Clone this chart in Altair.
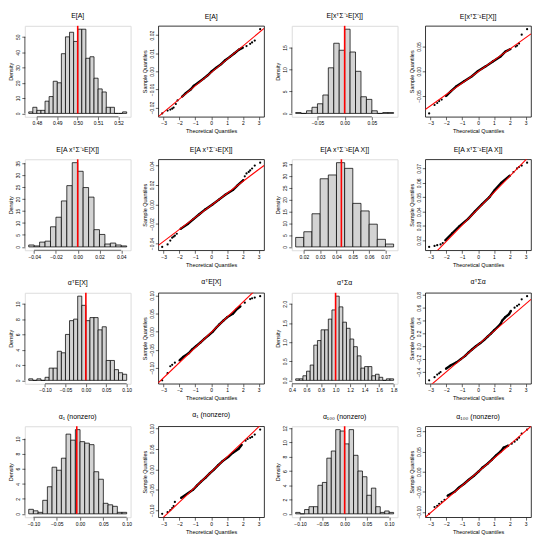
import altair as alt
import pandas as pd

FONT = "Liberation Sans"
W, H = 107, 92

titles = ["E[A]", "E[xᵀΣ⁻¹E[X]]", "E[A xᵀΣ⁻¹E[X]]", "E[A xᵀΣ⁻¹E[A X]]",
          "αᵀE[X]", "αᵀΣα", "α₁ (nonzero)", "α₁₀₀ (nonzero)"]

# ---------------- histogram panels (bin start, bin width, densities) ----------------
h1_start, h1_width = 0.476, 0.002
h1_dens = [1, 4, 2, 2, 8, 11, 21, 20, 39, 50, 53, 47, 55, 55, 36, 37, 23, 16, 14, 4, 4, 0, 0, 1]
h1_mark = 0.50
h1_xticks = [0.48, 0.49, 0.50, 0.51, 0.52]
h1_yticks = [0, 10, 20, 30, 40, 50]

h2_start, h2_width = -0.09, 0.01
h2_dens = [0.2, 0, 0.6, 1.4, 2.2, 4.2, 10.4, 16.0, 14.4, 19.2, 14.0, 9.6, 3.8, 3.2, 0.6, 0, 0.2, 0.2]
h2_mark = 0.0
h2_xticks = [-0.05, 0.0, 0.05]
h2_yticks = [0, 5, 10, 15]

h3_start, h3_width = -0.045, 0.005
h3_dens = [0.8, 0.4, 2.0, 2.4, 8.4, 12.4, 19.2, 25.6, 35.2, 31.6, 24.8, 20.8, 7.2, 5.2, 1.2, 1.6, 0.8, 0.4]
h3_mark = 0.0
h3_xticks = [-0.04, -0.02, 0.0, 0.02, 0.04]
h3_yticks = [0, 5, 10, 15, 20, 25, 30, 35]

h4_start, h4_width = 0.015, 0.005
h4_dens = [4.0, 6.4, 14.0, 28.8, 30.4, 35.6, 33.2, 18.4, 15.2, 9.6, 3.2, 1.2]
h4_mark = 0.043
h4_xticks = [0.02, 0.03, 0.04, 0.05, 0.06, 0.07]
h4_yticks = [0, 5, 10, 15, 20, 25, 30, 35]

h5_start, h5_width = -0.14, 0.01
h5_dens = [0.2, 0, 0.2, 0, 0.4, 1.6, 1.6, 3.8, 3.6, 6.0, 7.8, 8.0, 11.0, 9.8, 7.8, 8.2, 8.2, 6.6, 7.0,
           2.6, 2.6, 1.4, 1.0, 0.8]
h5_mark = 0.0
h5_xticks = [-0.10, -0.05, 0.0, 0.05, 0.10]
h5_yticks = [0, 2, 4, 6, 8, 10]

h6_start, h6_width = 0.45, 0.05
h6_dens = [0.04, 0.04, 0.12, 0.24, 0.40, 0.92, 1.04, 1.32, 1.32, 1.60, 1.84, 2.20, 1.92, 1.52, 1.36,
           1.08, 0.88, 0.64, 0.32, 0.36, 0.36, 0.12, 0.16, 0.08, 0, 0.04, 0.04]
h6_mark = 1.0
h6_xticks = [0.4, 0.6, 0.8, 1.0, 1.2, 1.4, 1.6, 1.8]
h6_yticks = [0.0, 0.5, 1.0, 1.5, 2.0]

h7_start, h7_width = -0.11, 0.01
h7_dens = [0.6, 0.4, 0.2, 1.8, 3.6, 6.2, 5.8, 7.4, 10.6, 9.8, 11.2, 9.6, 9.4, 9.2, 5.6, 4.6, 1.4, 1.2,
           1.0, 0.2, 0.2]
h7_mark = -0.007
h7_xticks = [-0.10, -0.05, 0.0, 0.05, 0.10]
h7_yticks = [0, 2, 4, 6, 8, 10]

h8_start, h8_width = -0.11, 0.01
h8_dens = [0.2, 0, 0.6, 1.0, 1.0, 4.0, 4.4, 7.8, 8.8, 11.8, 11.6, 9.8, 11.8, 8.2, 6.0, 5.2, 2.6, 3.6,
           1.0, 0.2, 0.4, 0.2]
h8_mark = 0.0
h8_xticks = [-0.10, -0.05, 0.0, 0.05, 0.10]
h8_yticks = [0, 2, 4, 6, 8, 10, 12]

# ---------------- QQ panels (theoretical quantile, sample quantile) ----------------
q1 = [-3.09, -2.75, -2.58, -2.46, -2.37, -2.23, -2.12, -1.84, -1.60, -1.30, -1.10, -0.78, -0.48, -0.20,
      0.03, 0.32, 0.63, 0.87, 1.18, 1.47, 1.75, 2.00, 2.23, 2.46, 2.58, 2.75, 3.09]
v1 = [-0.0232, -0.0216, -0.0211, -0.0206, -0.0200, -0.0180, -0.0160, -0.0140, -0.0120, -0.0100, -0.0080,
      -0.0060, -0.0040, -0.0020, 0.0000, 0.0020, 0.0040, 0.0060, 0.0080, 0.0100, 0.0120, 0.0131, 0.0140,
      0.0152, 0.0160, 0.0170, 0.0233]
qq1_line = (-0.0006, 0.0073)
qq1_yticks = [-0.02, -0.01, 0.0, 0.01, 0.02]

q2 = [-3.09, -2.75, -2.58, -2.46, -2.30, -2.03, -1.71, -1.36, -0.88, -0.39, -0.02, 0.48, 0.93, 1.41, 1.73,
      2.05, 2.37, 2.46, 2.58, 2.75, 3.09]
v2 = [-0.085, -0.068, -0.064, -0.060, -0.057, -0.050, -0.040, -0.030, -0.020, -0.010, 0.000, 0.010, 0.020,
      0.030, 0.040, 0.045, 0.050, 0.052, 0.056, 0.074, 0.085]
qq2_line = (-0.0008, 0.0229)
qq2_yticks = [-0.05, 0.0, 0.05]

q3 = [-3.09, -2.75, -2.58, -2.46, -2.37, -2.29, -2.17, -1.93, -1.48, -1.12, -0.75, -0.37, 0.08, 0.49, 0.89,
      1.38, 1.68, 2.03, 2.12, 2.23, 2.37, 2.46, 2.58, 2.75, 3.09]
v3 = [-0.0435, -0.0410, -0.0370, -0.0340, -0.0330, -0.0320, -0.0300, -0.0250, -0.0200, -0.0150, -0.0100,
      -0.0050, 0.0000, 0.0050, 0.0100, 0.0150, 0.0200, 0.0250, 0.0290, 0.0320, 0.0335, 0.0350, 0.0370,
      0.0400, 0.0430]
qq3_line = (-0.0009, 0.0123)
qq3_yticks = [-0.04, -0.02, 0.0, 0.02, 0.04]

q4 = [-3.09, -2.75, -2.58, -2.37, -2.23, -2.07, -1.63, -1.17, -0.63, -0.21, 0.24, 0.71, 1.05, 1.46, 2.00,
      2.23, 2.46, 2.58, 2.75, 3.09]
v4 = [0.0155, 0.0162, 0.0167, 0.0172, 0.0182, 0.0200, 0.0250, 0.0300, 0.0350, 0.0400, 0.0450, 0.0500,
      0.0550, 0.0600, 0.0650, 0.0675, 0.0700, 0.0710, 0.0720, 0.0740]
qq4_line = (0.0420, 0.0113)
qq4_yticks = [0.02, 0.03, 0.04, 0.05, 0.06, 0.07]

q5 = [-3.09, -2.75, -2.58, -2.46, -2.29, -2.00, -1.76, -1.42, -1.21, -0.94, -0.67, -0.43, -0.15, 0.10, 0.30,
      0.52, 0.77, 1.02, 1.38, 1.57, 1.85, 2.12, 2.46, 2.58, 2.75, 3.09]
v5 = [-0.135, -0.115, -0.096, -0.092, -0.086, -0.080, -0.070, -0.060, -0.050, -0.040, -0.030, -0.020,
      -0.010, 0.000, 0.010, 0.020, 0.030, 0.040, 0.050, 0.060, 0.070, 0.080, 0.090, 0.092, 0.094, 0.098]
qq5_line = (-0.0021, 0.0418)
qq5_yticks = [-0.10, -0.05, 0.0, 0.05, 0.10]

q6 = [-3.09, -2.75, -2.58, -2.46, -2.37, -2.03, -1.74, -1.36, -1.09, -0.82, -0.61, -0.385, -0.14, 0.14,
      0.385, 0.60, 0.82, 1.02, 1.23, 1.42, 1.52, 1.70, 1.95, 2.07, 2.30, 2.46, 2.58, 2.75, 3.09]
v6 = [-0.53, -0.48, -0.44, -0.42, -0.40, -0.35, -0.30, -0.25, -0.20, -0.15, -0.10, -0.05, 0.00, 0.05,
      0.10, 0.15, 0.20, 0.25, 0.30, 0.35, 0.40, 0.45, 0.50, 0.55, 0.60, 0.63, 0.65, 0.73, 0.78]
qq6_line = (0.0255, 0.2108)
qq6_yticks = [-0.4, -0.2, 0.0, 0.2, 0.4, 0.6, 0.8]

q7 = [-3.09, -2.75, -2.58, -2.46, -2.37, -2.29, -1.90, -1.51, -1.14, -0.90, -0.64, -0.34, -0.09, 0.19, 0.45,
      0.72, 1.07, 1.35, 1.73, 1.93, 2.17, 2.30, 2.46, 2.58, 2.75, 3.09]
v7 = [-0.109, -0.105, -0.100, -0.095, -0.090, -0.080, -0.070, -0.060, -0.050, -0.040, -0.030, -0.020,
      -0.010, 0.000, 0.010, 0.020, 0.030, 0.040, 0.050, 0.060, 0.070, 0.074, 0.077, 0.079, 0.085, 0.097]
qq7_line = (-0.0066, 0.0368)
qq7_yticks = [-0.10, -0.05, 0.0, 0.05, 0.10]

q8 = [-3.09, -2.75, -2.58, -2.46, -2.30, -2.12, -1.93, -1.49, -1.22, -0.88, -0.59, -0.265, 0.02, 0.275,
      0.60, 0.87, 1.12, 1.41, 1.61, 1.90, 2.12, 2.30, 2.46, 2.58, 2.75, 3.09]
v8 = [-0.105, -0.088, -0.085, -0.080, -0.075, -0.070, -0.060, -0.050, -0.040, -0.030, -0.020, -0.010,
      0.000, 0.010, 0.020, 0.030, 0.040, 0.050, 0.060, 0.065, 0.070, 0.075, 0.080, 0.085, 0.095, 0.105]
qq8_line = (-0.0003, 0.0340)
qq8_yticks = [-0.10, -0.05, 0.0, 0.05, 0.10]

qq_xticks = [-3, -2, -1, 0, 1, 2, 3]


def x_axis(values, fmt, title):
    return alt.Axis(values=values, format=fmt, title=title, domain=False, grid=False, tickSize=3,
                    tickColor="black", tickWidth=0.6, labelFontSize=5, labelPadding=1, labelColor="black",
                    labelFont=FONT, titleFont=FONT, titleFontSize=5.5, titleFontWeight="normal",
                    titleColor="black", titlePadding=3, labelFlush=False, labelOverlap=False)


def y_axis(values, fmt, title):
    return alt.Axis(values=values, format=fmt, title=title, domain=False, grid=False, tickSize=3,
                    tickColor="black", tickWidth=0.6, labelFontSize=5, labelPadding=1, labelColor="black",
                    labelAngle=270, labelFont=FONT, titleFont=FONT, titleFontSize=5.5,
                    titleFontWeight="normal", titleColor="black", titlePadding=2, labelFlush=False,
                    labelOverlap=False)


def panel_title(text):
    return alt.TitleParams(text=text, fontSize=7, font=FONT, fontWeight="normal", anchor="middle",
                           offset=6, color="black")


def hist_panel(title, start, width, dens, mark, xticks, yticks, xfmt, yfmt):
    n = len(dens)
    lo = [round(start + i * width, 6) for i in range(n)]
    hi = [round(start + (i + 1) * width, 6) for i in range(n)]
    span = hi[-1] - lo[0]
    top = max(dens)
    xs = alt.Scale(domain=[lo[0] - 0.04 * span, hi[-1] + 0.04 * span], nice=False, zero=False)
    ys = alt.Scale(domain=[-0.04 * top, 1.04 * top], nice=False, zero=False)
    X = alt.X("x:Q", scale=xs, axis=x_axis(xticks, xfmt, None))
    Y = alt.Y("y:Q", scale=ys, axis=y_axis(yticks, yfmt, "Density"))
    bars = alt.Chart(pd.DataFrame({"x": lo, "x2": hi, "y": dens, "y2": [0] * n})).mark_rect(
        fill="#d3d3d3", stroke="black", strokeWidth=0.75).encode(x=X, x2="x2:Q", y=Y, y2="y2:Q")
    red = alt.Chart(pd.DataFrame({"x": [mark], "y": [0], "y2": [1.04 * top]})).mark_rule(
        color="#ff0000", strokeWidth=1.6).encode(x=X, y=Y, y2="y2:Q")
    xline = alt.Chart(pd.DataFrame({"x": [xticks[0]], "x2": [xticks[-1]]})).mark_rule(
        color="black", strokeWidth=0.6).encode(x=X, x2="x2:Q", y=alt.value(H))
    yline = alt.Chart(pd.DataFrame({"y": [yticks[0]], "y2": [yticks[-1]]})).mark_rule(
        color="black", strokeWidth=0.6).encode(x=alt.value(0), y=Y, y2="y2:Q")
    return alt.layer(bars, red, xline, yline).properties(width=W, height=H, title=panel_title(title))


def qq_panel(title, qs, vs, line, yticks, yfmt):
    icpt, slope = line
    qspan = max(qs) - min(qs)
    vspan = max(vs) - min(vs)
    xdom = [min(qs) - 0.04 * qspan, max(qs) + 0.04 * qspan]
    ydom = [min(vs) - 0.04 * vspan, max(vs) + 0.04 * vspan]
    xs = alt.Scale(domain=xdom, nice=False, zero=False)
    ys = alt.Scale(domain=ydom, nice=False, zero=False)
    X = alt.X("x:Q", scale=xs, axis=x_axis(qq_xticks, "d", "Theoretical Quantiles"))
    Y = alt.Y("y:Q", scale=ys, axis=y_axis(yticks, yfmt, "Sample Quantiles"))
    df = pd.DataFrame({"x": qs, "y": vs})
    band = alt.Chart(df).transform_filter("abs(datum.x) <= 2.1").mark_line(
        color="black", strokeWidth=2.4).encode(x=X, y=Y)
    pts = alt.Chart(df).mark_circle(size=5, color="black", opacity=1).encode(x=X, y=Y)
    ldf = pd.DataFrame({"x": xdom, "y": [icpt + slope * xdom[0], icpt + slope * xdom[1]]})
    qline = alt.Chart(ldf).mark_line(color="#ff0000", strokeWidth=1.1, clip=True).encode(x=X, y=Y)
    return alt.layer(band, pts, qline).properties(
        width=W, height=H, title=panel_title(title),
        view=alt.ViewBackground(stroke="black", strokeWidth=0.8))


panels = [
    hist_panel(titles[0], h1_start, h1_width, h1_dens, h1_mark, h1_xticks, h1_yticks, ".2f", "d"),
    qq_panel(titles[0], q1, v1, qq1_line, qq1_yticks, ".2f"),
    hist_panel(titles[1], h2_start, h2_width, h2_dens, h2_mark, h2_xticks, h2_yticks, ".2f", "d"),
    qq_panel(titles[1], q2, v2, qq2_line, qq2_yticks, ".2f"),
    hist_panel(titles[2], h3_start, h3_width, h3_dens, h3_mark, h3_xticks, h3_yticks, ".2f", "d"),
    qq_panel(titles[2], q3, v3, qq3_line, qq3_yticks, ".2f"),
    hist_panel(titles[3], h4_start, h4_width, h4_dens, h4_mark, h4_xticks, h4_yticks, ".2f", "d"),
    qq_panel(titles[3], q4, v4, qq4_line, qq4_yticks, ".2f"),
    hist_panel(titles[4], h5_start, h5_width, h5_dens, h5_mark, h5_xticks, h5_yticks, ".2f", "d"),
    qq_panel(titles[4], q5, v5, qq5_line, qq5_yticks, ".2f"),
    hist_panel(titles[5], h6_start, h6_width, h6_dens, h6_mark, h6_xticks, h6_yticks, ".1f", ".1f"),
    qq_panel(titles[5], q6, v6, qq6_line, qq6_yticks, ".1f"),
    hist_panel(titles[6], h7_start, h7_width, h7_dens, h7_mark, h7_xticks, h7_yticks, ".2f", "d"),
    qq_panel(titles[6], q7, v7, qq7_line, qq7_yticks, ".2f"),
    hist_panel(titles[7], h8_start, h8_width, h8_dens, h8_mark, h8_xticks, h8_yticks, ".2f", "d"),
    qq_panel(titles[7], q8, v8, qq8_line, qq8_yticks, ".2f"),
]

chart = alt.concat(*panels, columns=4, spacing={"row": 43, "column": 28}, bounds="flush").properties(
    padding=0, background="white"
).configure_view(stroke=None).configure(font=FONT)

chart.save("out.html", embed_options={"renderer": "svg", "actions": False})
